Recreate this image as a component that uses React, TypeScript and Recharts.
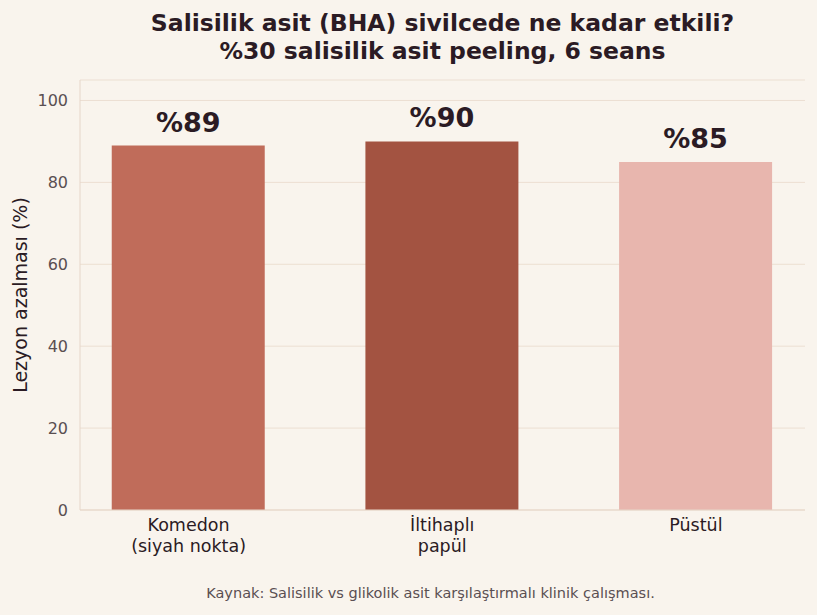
import { Bar, BarChart, CartesianGrid, Cell, LabelList, XAxis, YAxis } from "recharts";

const categories = ["Komedon\n(siyah nokta)", "İltihaplı\npapül", "Püstül"];
const reductions = [89, 90, 85];
const barColors = ["#c06c5a", "#a35341", "#e8b6ae"];
const yTicks = [0, 20, 40, 60, 80, 100];

const data = categories.map((name, i) => ({ x: i, name, value: reductions[i] }));

const FONT = "DejaVu Sans, sans-serif";
const INK = "#2b1b24";

function CategoryTick(props: any) {
  const { x, y, payload } = props;
  const lines = categories[payload.value].split("\n");
  return (
    <text x={x} y={y + 13} textAnchor="middle" fill={INK} fontSize={17.5} fontFamily={FONT}>
      {lines.map((l, i) => (
        <tspan key={i} x={x} dy={i === 0 ? 0 : 21}>
          {l}
        </tspan>
      ))}
    </text>
  );
}

export default function App() {
  return (
    <div style={{ position: "absolute", left: 0, top: 0, width: 817, height: 615, background: "#f9f4ed", fontFamily: FONT }}>
      <div style={{ position: "absolute", left: 80, width: 725, top: 9, textAlign: "center", fontSize: 23.5, fontWeight: "bold", color: INK, lineHeight: "28px" }}>
        Salisilik asit (BHA) sivilcede ne kadar etkili?
        <br />
        %30 salisilik asit peeling, 6 seans
      </div>
      <BarChart width={817} height={615} data={data} margin={{ top: 80, right: 12, bottom: 0, left: 20 }}>
        <CartesianGrid vertical={false} stroke="#ecdfd2" />
        <XAxis
          type="number"
          dataKey="x"
          domain={[-0.428, 2.43]}
          ticks={[0, 1, 2]}
          allowDataOverflow
          tickLine={false}
          stroke="#e6d6c9"
          tick={<CategoryTick />}
          height={105}
        />
        <YAxis
          domain={[0, 105]}
          ticks={yTicks}
          width={60}
          tickLine={false}
          stroke="#e6d6c9"
          tick={{ fill: "#5a4f52", fontSize: 16, fontFamily: FONT }}
          tickMargin={6}
          label={{ value: "Lezyon azalması (%)", angle: -90, position: "insideLeft", offset: 0, dx: 0, style: { textAnchor: "middle", fill: INK, fontSize: 19, fontFamily: FONT } }}
        />
        <Bar dataKey="value" barSize={153} isAnimationActive={false}>
          {data.map((d, i) => (
            <Cell key={d.name} fill={barColors[i]} />
          ))}
          <LabelList
            dataKey="value"
            position="top"
            offset={14}
            formatter={(v: any) => `%${v}`}
            style={{ fill: INK, fontSize: 27, fontWeight: "bold", fontFamily: FONT }}
          />
        </Bar>
      </BarChart>
      <div style={{ position: "absolute", left: 0, width: 861, top: 585, textAlign: "center", fontSize: 14.5, color: "#5a4f52" }}>
        Kaynak: Salisilik vs glikolik asit karşılaştırmalı klinik çalışması.
      </div>
    </div>
  );
}
